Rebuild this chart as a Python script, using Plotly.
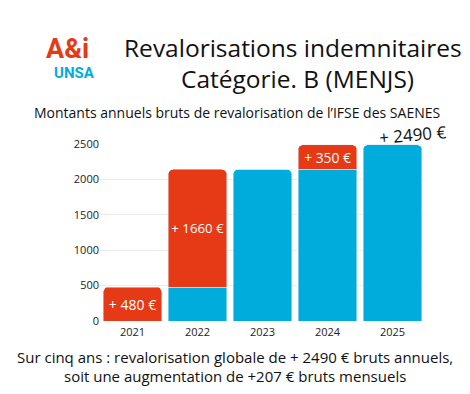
import plotly.graph_objects as go

years = ["2021", "2022", "2023", "2024", "2025"]
base_values = [0, 480, 2140, 2140, 2490]
increase_values = [480, 1660, 0, 350, 0]
increase_labels = ["+ 480 €", "+ 1660 €", "", "+ 350 €", ""]
total_label = "+ 2490 €"
yticks = [0, 500, 1000, 1500, 2000, 2500]

RED = "#E63A16"
BLUE = "#00ACDB"
FONT = "Open Sans"

# screen-space plot area (page has 8px body margin)
PL, PR, PT, PB = 100, 425, 144, 321
OFF = 8

fig = go.Figure()
fig.add_trace(go.Bar(x=years, y=base_values, marker=dict(color=BLUE),
                     hoverinfo="skip"))
fig.add_trace(go.Bar(x=years, y=increase_values, marker=dict(color=RED),
                     text=increase_labels, textposition="inside", textangle=0,
                     insidetextanchor="middle",
                     textfont=dict(color="white", size=14, family=FONT), hoverinfo="skip"))

fig.update_layout(
    width=470, height=394,
    margin=dict(l=PL - OFF, r=470 - (PR - OFF), t=PT - OFF, b=394 - (PB - OFF)),
    barmode="stack", bargap=0.1, barcornerradius=5,
    showlegend=False,
    plot_bgcolor="white", paper_bgcolor="white",
    font=dict(family=FONT, color="#222"),
    xaxis=dict(type="category", range=[-0.5, len(years) - 0.5], showgrid=False,
               showline=False, ticks="", ticklabelstandoff=3,
               tickfont=dict(size=11, color="#222", family=FONT)),
    yaxis=dict(range=[0, 2500], tickvals=yticks, showgrid=True, gridcolor="#EBEBEB",
               gridwidth=1, zeroline=False, ticks="",
               tickfont=dict(size=11, color="#222", family=FONT)),
)

last = len(years) - 1
fig.add_annotation(x=last, y=base_values[last] + increase_values[last], text=total_label,
                   showarrow=False, textangle=-5,
                   yanchor="bottom", xshift=20, yshift=-6,
                   font=dict(size=17, color="#111", family=FONT))

anns = [
    dict(text="Revalorisations indemnitaires", x=293, y=48, size=24.5),
    dict(text="Catégorie. B (MENJS)", x=297, y=78, size=24.5),
    dict(text="Montants annuels bruts de revalorisation de l’IFSE des SAENES", x=237, y=113, size=14),
    dict(text="Sur cinq ans : revalorisation globale de + 2490 € bruts annuels,", x=235, y=357, size=15),
    dict(text="soit une augmentation de +207 € bruts mensuels", x=235, y=376, size=15),
]
for a in anns:
    fig.add_annotation(xref="paper", yref="paper",
                       x=(a["x"] - PL) / (PR - PL), y=(PB - a["y"]) / (PB - PT),
                       xanchor="center", yanchor="middle", text=a["text"], showarrow=False,
                       font=dict(size=a["size"], color="#111", family=FONT))

# Logo
fig.add_annotation(xref="paper", yref="paper", x=(67 - PL) / (PR - PL), y=(PB - 49) / (PB - PT),
                   xanchor="center", yanchor="middle", text="<b>A&amp;i</b>", showarrow=False,
                   font=dict(size=27, color=RED, family="Roboto"))
fig.add_annotation(xref="paper", yref="paper", x=(74 - PL) / (PR - PL), y=(PB - 73) / (PB - PT),
                   xanchor="center", yanchor="middle", text="<b>UNSA</b>", showarrow=False,
                   font=dict(size=15, color=BLUE, family="Roboto"))

fig.write_html("out.html")
